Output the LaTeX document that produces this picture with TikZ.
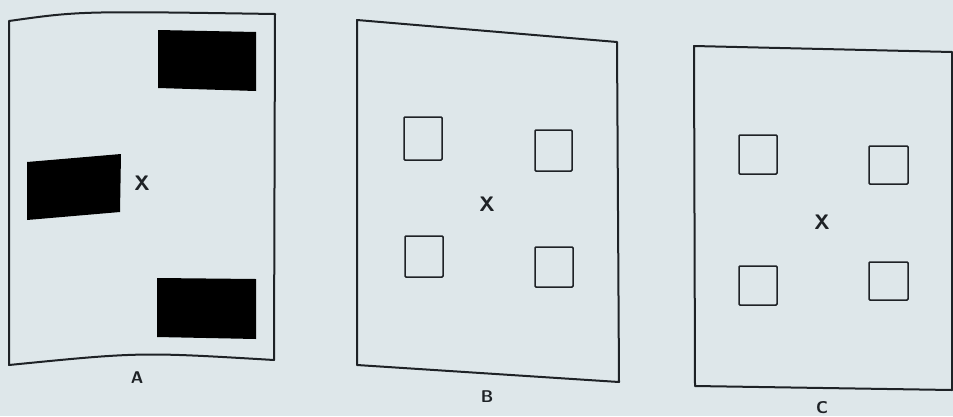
\documentclass[tikz,border=0pt]{standalone}
\usepackage{tikz}
\usetikzlibrary{positioning}
\definecolor{paper}{RGB}{222,231,234}
\definecolor{ink}{RGB}{30,34,38}

\begin{document}
\begin{tikzpicture}[
  x=1pt, y=-1pt,
  frame/.style={draw=ink, line width=2pt, line join=round},
  block/.style={fill=black},
  hole/.style={draw=ink, line width=1.5pt, rounded corners=1pt},
  centre/.style={font=\fontsize{21}{24}\selectfont\sffamily\bfseries, text=ink, inner sep=0pt},
  caption/.style={font=\fontsize{17}{20}\selectfont\sffamily\bfseries, text=ink, inner sep=0pt},
]

% --- Page background ---
\fill[paper] (0,0) rectangle (953,416);
\useasboundingbox (0,0) rectangle (953,416);

% --- Panel A: three solid blocks ---
\draw[frame] (9,21) .. controls (80,11) .. (275,14) -- (274,360)
  .. controls (140,352) .. (9,365) -- cycle;
\fill[block] (158,30) -- (256,32) -- (256,91) -- (158,88) -- cycle;
\fill[block] (27,162) -- (121,154) -- (120,212) -- (27,220) -- cycle;
\fill[block] (157,278) -- (256,279) -- (256,339) -- (157,337) -- cycle;
\node[centre] (xa) at (142,183) {X};
\node[caption] (labela) at (137,378) {A};

% --- Panel B: four open squares ---
\draw[frame] (357,20) -- (617,42) -- (619,382) -- (357,365) -- cycle;
\draw[hole] (404,117) rectangle (442,160);
\draw[hole] (535,130) rectangle (572,171);
\draw[hole] (405,236) rectangle (443,277);
\draw[hole] (535,247) rectangle (573,287);
\node[centre] (xb) at (487,204) {X};
\node[caption] (labelb) at (487,397) {B};

% --- Panel C: four open squares ---
\draw[frame] (694,46) -- (952,52) -- (952,390) -- (695,386) -- cycle;
\draw[hole] (739,135) rectangle (777,174);
\draw[hole] (869,146) rectangle (908,184);
\draw[hole] (739,266) rectangle (777,305);
\draw[hole] (869,262) rectangle (908,300);
\node[centre] (xc) at (822,222) {X};
\node[caption] (labelc) at (822,408) {C};

\end{tikzpicture}
\end{document}
